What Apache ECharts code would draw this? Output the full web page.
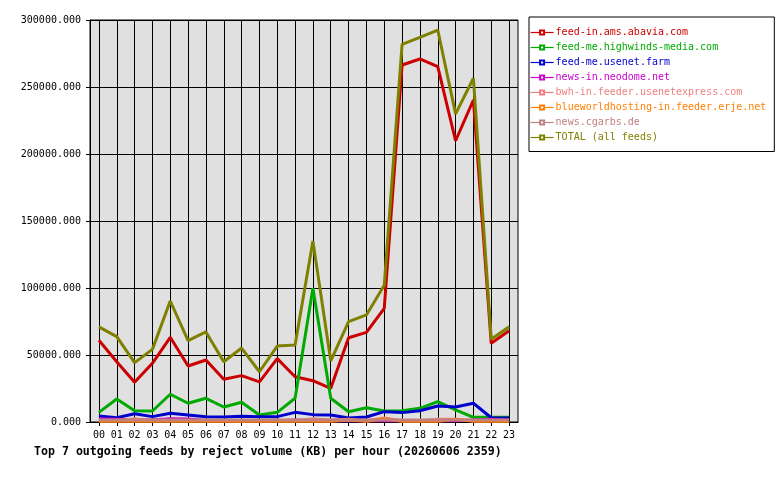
<!DOCTYPE html>
<html>
<head>
<meta charset="utf-8">
<title>Top 7 outgoing feeds by reject volume</title>
<script src="https://cdn.jsdelivr.net/npm/echarts@6/dist/echarts.min.js"></script>
<style>
  html, body { margin: 0; padding: 0; background: #fff; }
  #chart { width: 780px; height: 480px; }
</style>
</head>
<body>
<div id="chart"></div>
<script>
// hours of the day
const hours = ['00', '01', '02', '03', '04', '05', '06', '07', '08', '09', '10', '11',
  '12', '13', '14', '15', '16', '17', '18', '19', '20', '21', '22', '23'];

const feedNames = [
  'feed-in.ams.abavia.com',
  'feed-me.highwinds-media.com',
  'feed-me.usenet.farm',
  'news-in.neodome.net',
  'bwh-in.feeder.usenetexpress.com',
  'blueworldhosting-in.feeder.erje.net',
  'news.cgarbs.de',
  'TOTAL (all feeds)'
];
const feedColors = ['#cc0000', '#00aa00', '#0000cc', '#cc00cc', '#f08080', '#ff8000', '#c08080', '#808000'];

// reject volume (KB) per hour
const abavia = [61000, 45000, 29600, 43800, 63200, 41800, 46300, 31900, 34600, 29900, 47300, 33800,
  30800, 25100, 62900, 66900, 84800, 266400, 270900, 265200, 209900, 240300, 58700, 68100];
const highwinds = [7200, 17200, 8400, 8200, 20700, 14000, 17700, 11200, 14700, 5200, 7200, 17700,
  99800, 17700, 7700, 10700, 8200, 8400, 10200, 15200, 9000, 3500, 3500, 3500];
const usenetFarm = [4500, 3200, 6200, 4000, 6500, 5200, 4000, 3700, 4200, 4000, 4000, 7200,
  5500, 5200, 3000, 3700, 7700, 7000, 8400, 11900, 11200, 14000, 3200, 3000];
const neodome = [2200, 2000, 1500, 1500, 2500, 2200, 1200, 1000, 1000, 1000, 1000, 1500,
  1000, 1000, 1000, 1000, 1000, 1000, 1000, 1000, 1000, 1500, 2000, 1500];
const usenetexpress = [1000, 1000, 2500, 1000, 1000, 1000, 1000, 1000, 1000, 1000, 1000, 1000,
  2500, 1500, 2000, 1000, 3000, 1000, 1000, 2000, 2000, 1000, 1000, 1000];
const erje = [500, 500, 500, 500, 500, 500, 500, 500, 500, 500, 500, 500,
  500, 500, 1500, 500, 2500, 500, 500, 500, 2000, 500, 500, 500];
const cgarbs = [1500, 1500, 1500, 1500, 1500, 1500, 1500, 1500, 1500, 1500, 1500, 1500,
  1500, 1500, 1500, 1500, 1500, 1500, 1500, 1500, 1500, 1500, 1500, 1500];
const total = [71000, 63700, 44300, 54200, 90300, 60700, 67200, 45000, 55200, 37500, 56700, 57500,
  135000, 45700, 74900, 79900, 102000, 281800, 287000, 292500, 229900, 256500, 61700, 71100];

const feedValues = [abavia, highwinds, usenetFarm, neodome, usenetexpress, erje, cgarbs, total];

const mono = 'DejaVu Sans Mono';

let option = {
  animation: false,
  title: {
    text: 'Top 7 outgoing feeds by reject volume (KB) per hour (20260606 2359)',
    left: 34,
    top: 446,
    padding: 0,
    textStyle: { fontFamily: mono, fontSize: 11.6, fontWeight: 'bold', color: '#000' }
  },
  legend: {
    orient: 'vertical',
    left: 529,
    top: 17,
    padding: [9.5, 8, 8, 1],
    itemGap: 3,
    itemWidth: 23,
    itemHeight: 5,
    backgroundColor: '#fff',
    borderColor: '#000',
    borderWidth: 1,
    borderRadius: 0,
    lineStyle: { width: 1.2 },
    itemStyle: { borderWidth: 1 },
    textStyle: { fontFamily: mono, fontSize: 10, lineHeight: 12, padding: [0, 0, 0, -3] },
    data: feedNames.map((name, i) => ({
      name: name,
      textStyle: { color: feedColors[i] }
    }))
  },
  grid: {
    left: 90,
    right: 262,
    top: 20,
    bottom: 58,
    show: true,
    backgroundColor: '#e0e0e0',
    borderColor: '#000',
    borderWidth: 1
  },
  xAxis: {
    type: 'category',
    data: hours,
    boundaryGap: true,
    axisLine: { lineStyle: { color: '#000', width: 1 } },
    axisTick: { show: true, alignWithLabel: true, length: 4, lineStyle: { color: '#000' } },
    axisLabel: { fontFamily: mono, fontSize: 10, color: '#000', margin: 8, interval: 0 },
    splitLine: { show: true, alignWithLabel: true, lineStyle: { color: '#000', width: 1 } }
  },
  yAxis: {
    type: 'value',
    min: 0,
    max: 300000,
    interval: 50000,
    axisLine: { show: true, lineStyle: { color: '#000', width: 1 } },
    axisTick: { show: true, length: 4, lineStyle: { color: '#000' } },
    axisLabel: {
      fontFamily: mono, fontSize: 10, color: '#000', margin: 9,
      formatter: v => v.toFixed(3)
    },
    splitLine: { show: true, lineStyle: { color: '#000', width: 1 } }
  },
  series: feedNames.map((name, i) => ({
    name: name,
    type: 'line',
    data: feedValues[i],
    color: feedColors[i],
    showSymbol: false,
    symbol: 'emptyRect',
    symbolSize: 5,
    lineStyle: { width: 3, color: feedColors[i] },
    itemStyle: { color: feedColors[i], borderColor: feedColors[i] },
    emphasis: { disabled: true },
    z: 2 + i
  }))
};

let chartDom = document.getElementById('chart');
let myChart = echarts.init(chartDom, null, { renderer: 'canvas' });
myChart.setOption(option);
</script>
</body>
</html>
